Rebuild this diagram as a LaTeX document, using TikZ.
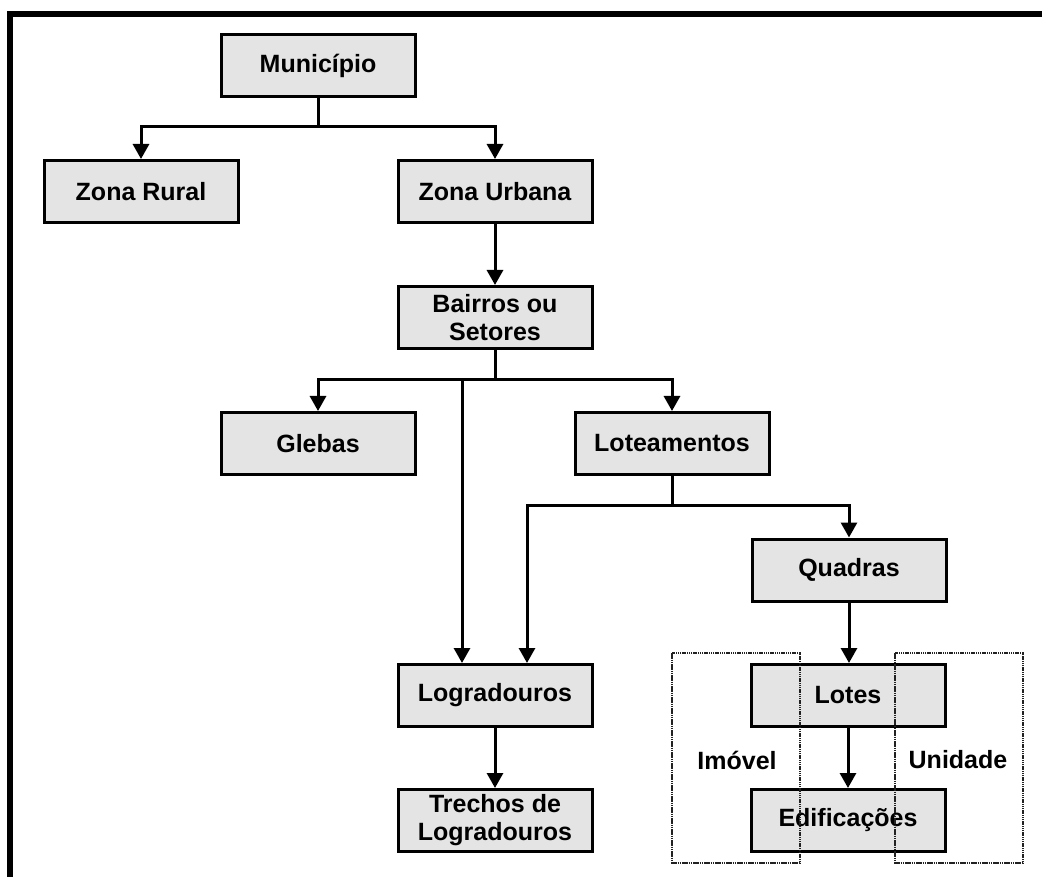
\documentclass[tikz,border=0pt]{standalone}
\usepackage{fontspec}
\setmainfont{Liberation Sans}
\usetikzlibrary{arrows.meta}
\definecolor{boxfill}{HTML}{E4E4E4}
\definecolor{dotcol}{HTML}{222222}
\tikzset{
  box/.style={draw=black, fill=boxfill, line width=3pt, minimum width=194pt, minimum height=62pt,
    inner sep=0pt, align=center, font=\fontsize{25}{28}\selectfont\bfseries},
  conn/.style={line width=3pt},
  arr/.style={conn, -{Triangle[width=16pt,length=15pt]}},
  frame/.style={draw=dotcol, line width=2pt, dash pattern=on 1.5pt off 0.7pt},
  lbl/.style={font=\fontsize{25}{28}\selectfont\bfseries, inner sep=0pt}
}
\begin{document}
\begin{tikzpicture}[x=1pt,y=-1pt]
\useasboundingbox (0,0) rectangle (1042,877);
\fill[white] (0,0) rectangle (1042,877);
\draw[line width=6pt, line join=miter] (1042,14) -- (10,14) -- (10,877);

\node[box] (mun) at (318,65.5) {Município};
\node[box] (zr) at (141,191.5) {Zona Rural};
\node[box] (zu) at (495,191.5) {Zona Urbana};
\node[box] (bai) at (495,317.5) {Bairros ou\\Setores};
\node[box] (gle) at (318,443.5) {Glebas};
\node[box] (lot) at (672,443.5) {Loteamentos};
\node[box] (qua) at (849,570) {Quadras};
\node[box] (log) at (495,695.5) {Logradouros};
\node[box] (tre) at (495,820.5) {Trechos de\\Logradouros};
\node[box] (lte) at (848,695.5) {Lotes};
\node[box] (edi) at (848,820.5) {Edificações};

\coordinate (j1) at (318,127);
\draw[conn] (mun.south) -- (j1);
\draw[arr] (j1) -| (zr.north);
\draw[arr] (j1) -| (zu.north);
\draw[arr] (zu.south) -- (bai.north);

\coordinate (j2) at (495,380);
\coordinate (j2b) at (462,380);
\draw[conn] (bai.south) -- (j2);
\draw[arr] (j2) -| (gle.north);
\draw[arr] (j2) -| (lot.north);
\draw[arr] (j2b) -- (j2b |- log.north);

\coordinate (j3) at (672,505);
\coordinate (j3b) at (527,505);
\draw[conn] (lot.south) -- (j3);
\draw[arr] (j3) -| (qua.north);
\draw[arr] (j3) -- (j3b) -- (j3b |- log.north);

\draw[arr] (qua.south) -- (qua.south |- lte.north);
\draw[arr] (log.south) -- (tre.north);
\draw[arr] (lte.south) -- (edi.north);

\node[lbl] (imo) at (737,760) {Imóvel};
\node[lbl] (uni) at (958,760) {Unidade};
\draw[frame] (672,653) rectangle (800,863);
\draw[frame] (895,653) rectangle (1023,863);
\end{tikzpicture}
\end{document}
